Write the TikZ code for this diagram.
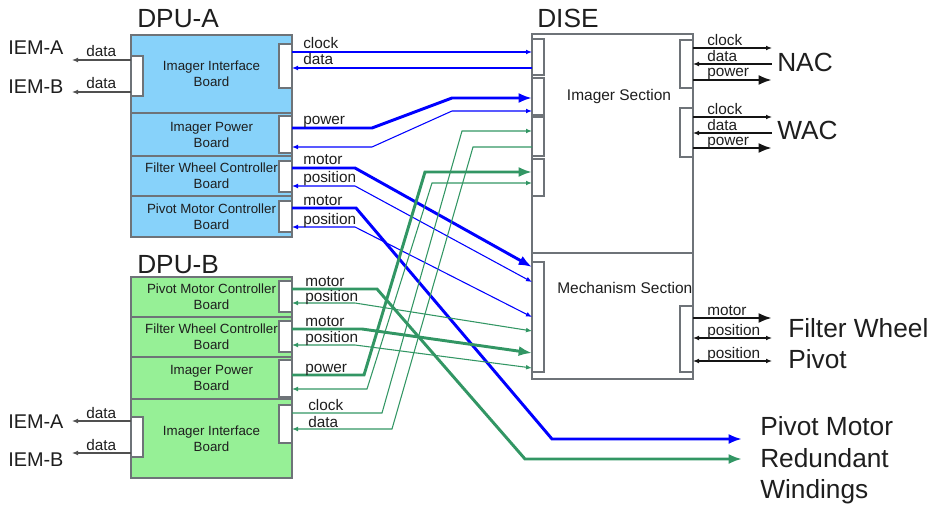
\documentclass[tikz,border=0pt]{standalone}
\usepackage{fontspec}
\setmainfont{Liberation Sans}
\usetikzlibrary{arrows.meta}
\definecolor{fillA}{RGB}{135,210,250}
\definecolor{fillB}{RGB}{150,240,150}
\definecolor{lnB}{RGB}{0,0,255}
\definecolor{lnG}{RGB}{50,150,100}
\definecolor{bord}{RGB}{110,115,120}
\definecolor{txt}{RGB}{30,30,30}
\definecolor{lnK}{RGB}{20,20,20}
\definecolor{lnD}{RGB}{80,80,80}
\newcommand\rbox[7]{\node[#6,minimum width={(#4-#2)*0.75pt},minimum height={(#5-#3)*0.75pt}] (#1) at ({(#2+#4)/2},{(#3+#5)/2}) {#7};}
\begin{document}
\begin{tikzpicture}[x=0.75pt,y=-0.75pt,
  box/.style={draw=bord,line width=1pt,inner sep=0pt,outer sep=0pt,align=center,font=\fontsize{10}{12}\selectfont,text=txt},
  boxA/.style={box,fill=fillA},
  boxB/.style={box,fill=fillB},
  boxW/.style={box,fill=white},
  tab/.style={draw=bord,fill=white,line width=0.8pt,inner sep=0pt,outer sep=0pt},
  lbl/.style={font=\fontsize{11.5}{13}\selectfont,anchor=base west,inner sep=0pt,text=txt},
  big/.style={font=\fontsize{19.7}{24}\selectfont,anchor=base west,inner sep=0pt,text=txt},
  iem/.style={font=\fontsize{14.9}{18}\selectfont,anchor=base west,inner sep=0pt,text=txt},
  sec/.style={font=\fontsize{11.6}{14}\selectfont,inner sep=0pt,text=txt},
  thinB/.style={draw=lnB,line width=0.8pt},
  thickB/.style={draw=lnB,line width=2.2pt},
  thinG/.style={draw=lnG,line width=0.8pt},
  thickG/.style={draw=lnG,line width=2.2pt},
  thinK/.style={draw=lnK,line width=0.8pt},
  thickK/.style={draw=lnK,line width=2.2pt},
  thinD/.style={draw=lnD,line width=0.8pt},
  sarr/.style={-{Latex[length=4.5pt,width=3.6pt]}},
  sarrs/.style={{Latex[length=4.5pt,width=3.6pt]}-},
  sarrb/.style={{Latex[length=4.5pt,width=3.6pt]}-{Latex[length=4.5pt,width=3.6pt]}},
  barr/.style={-{Latex[length=10pt,width=7.5pt]}}
]
\useasboundingbox (0,0) rectangle (935,506);

% ---------------- DPU-A ----------------
\rbox{aI}{131}{35}{292}{113}{boxA}{Imager Interface\\Board}
\rbox{aP}{131}{113}{292}{156}{boxA}{Imager Power\\Board}
\rbox{aF}{131}{156}{292}{196}{boxA}{Filter Wheel Controller\\Board}
\rbox{aV}{131}{196}{292}{237}{boxA}{Pivot Motor Controller\\Board}
\rbox{tAI}{279}{44}{292}{88}{tab}{}
\rbox{tAP}{279}{116}{292}{153}{tab}{}
\rbox{tAF}{279}{161}{292}{192}{tab}{}
\rbox{tAV}{279}{201}{292}{232}{tab}{}
\rbox{tAL}{131}{56}{143}{96}{tab}{}

% ---------------- DPU-B ----------------
\rbox{bV}{131}{277}{292}{317}{boxB}{Pivot Motor Controller\\Board}
\rbox{bF}{131}{317}{292}{357}{boxB}{Filter Wheel Controller\\Board}
\rbox{bP}{131}{357}{292}{399}{boxB}{Imager Power\\Board}
\rbox{bI}{131}{399}{292}{478}{boxB}{Imager Interface\\Board}
\rbox{tBV}{279}{281}{292}{312}{tab}{}
\rbox{tBF}{279}{321}{292}{352}{tab}{}
\rbox{tBP}{279}{360}{292}{397}{tab}{}
\rbox{tBI}{279}{405}{292}{443}{tab}{}
\rbox{tBL}{131}{417}{143}{457}{tab}{}

% ---------------- DISE ----------------
\rbox{dI}{532}{34}{693}{253}{boxW}{}
\rbox{dM}{532}{253}{693}{379}{boxW}{}
\node[sec] (secI) at (619,97) {Imager Section};
\node[sec,anchor=west] (secM) at (557,288) {Mechanism Section};
\rbox{tD1}{532}{39}{544}{75}{tab}{}
\rbox{tD2}{532}{78}{544}{115}{tab}{}
\rbox{tD3}{532}{117}{544}{156}{tab}{}
\rbox{tD4}{532}{159}{544}{196}{tab}{}
\rbox{tDM}{532}{262}{544}{372}{tab}{}
\rbox{tDN}{680}{40}{693}{88}{tab}{}
\rbox{tDW}{680}{108}{693}{157}{tab}{}
\rbox{tDR}{680}{306}{693}{372}{tab}{}

% ---------------- titles ----------------
\node[big] (tA) at (137,28) {DPU-A};
\node[big] (tB) at (137,273) {DPU-B};
\node[big] (tD) at (537,28) {DISE};
\node[big] (nac) at (777,72) {NAC};
\node[big] (wac) at (777,140) {WAC};
\node[big] (fw) at (788,337) {Filter Wheel};
\node[big] (pv) at (788,368) {Pivot};
\node[big] (pm1) at (760,435) {Pivot Motor};
\node[big] (pm2) at (760,467) {Redundant};
\node[big] (pm3) at (760,498) {Windings};
\node[iem] (ia1) at (8,55) {IEM-A};
\node[iem] (ib1) at (8,94) {IEM-B};
\node[iem] (ia2) at (8,428) {IEM-A};
\node[iem] (ib2) at (8,466) {IEM-B};

% ---------------- IEM connectors ----------------
\draw[thinD,sarr] (tAL.west |- 0,60) -- ++(-59,0);
\draw[thinD,sarr] (tAL.west |- 0,92) -- ++(-59,0);
\draw[thinD,sarr] (tBL.west |- 0,421) -- ++(-59,0);
\draw[thinD,sarr] (tBL.west |- 0,453) -- ++(-59,0);
\node[lbl] (ld1) at (86,57) {data};
\node[lbl] (ld2) at (86,89) {data};
\node[lbl] (ld3) at (86,418) {data};
\node[lbl] (ld4) at (86,450) {data};

% ---------------- DPU-A connectors ----------------
\draw[thinB,sarr] (tAI.east |- 0,52) -- (tD1.west |- 0,52);
\draw[thinB,sarr] (tD1.west |- 0,68) -- (tAI.east |- 0,68);
\draw[thickB,barr] (tAP.east |- 0,128) -- (372,128) -- (452,98) -- (tD2.west |- 0,98);
\draw[thinB,sarrb] (tAP.east |- 0,147) -- (372,147) -- (452,111) -- (tD2.west |- 0,111);
\draw[thickB,barr] (tAF.east |- 0,168) -- (355,168) -- (tDM.west |- 0,267);
\draw[thinB,sarrb] (tAF.east |- 0,186) -- (355,186) -- (tDM.west |- 0,282);
\draw[thickB,barr] (tAV.east |- 0,208) -- (356,208) -- (552,439) -- (742,439);
\draw[thinB,sarrb] (tAV.east |- 0,227) -- (355,227) -- (tDM.west |- 0,317);
\node[lbl] (la1) at (303,49) {clock};
\node[lbl] (la2) at (303,65) {data};
\node[lbl] (la3) at (303,125) {power};
\node[lbl] (la4) at (303,165) {motor};
\node[lbl] (la5) at (303,183) {position};
\node[lbl] (la6) at (303,205) {motor};
\node[lbl] (la7) at (303,224) {position};

% ---------------- DPU-B connectors ----------------
\draw[thickG,barr] (tBV.east |- 0,289) -- (377,289) -- (525,459) -- (742,459);
\draw[thinG,sarrb] (tBV.east |- 0,303) -- (355,303) -- (tDM.west |- 0,331);
\draw[thickG,barr] (tBF.east |- 0,329) -- (362,329) -- (tDM.west |- 0,353);
\draw[thinG,sarrb] (tBF.east |- 0,345) -- (355,345) -- (tDM.west |- 0,368);
\draw[thickG,barr] (tBP.east |- 0,375) -- (364,375) -- (425,172) -- (tD4.west |- 0,172);
\draw[thinG,sarrb] (tBP.east |- 0,389) -- (367,389) -- (432,183) -- (tD4.west |- 0,183);
\draw[thinG,sarr] (tBI.east |- 0,413) -- (382,413) -- (462,131) -- (tD3.west |- 0,131);
\draw[thinG,sarr] (tD3.west |- 0,147) -- (473,147) -- (392,429) -- (tBI.east |- 0,429);
\node[lbl] (lb1) at (305,286) {motor};
\node[lbl] (lb2) at (305,301) {position};
\node[lbl] (lb3) at (305,326) {motor};
\node[lbl] (lb4) at (305,342) {position};
\node[lbl] (lb5) at (305,372) {power};
\node[lbl] (lb6) at (308,410) {clock};
\node[lbl] (lb7) at (308,427) {data};

% ---------------- DISE right connectors ----------------
\draw[thinK,sarr] (tDN.east |- 0,48) -- ++(79,0);
\draw[thinK,sarrs] (tDN.east |- 0,64) -- ++(79,0);
\draw[thickK,barr] (tDN.east |- 0,80) -- ++(79,0);
\draw[thinK,sarr] (tDW.east |- 0,117) -- ++(79,0);
\draw[thinK,sarrs] (tDW.east |- 0,133) -- ++(79,0);
\draw[thickK,barr] (tDW.east |- 0,148) -- ++(79,0);
\draw[thickK,barr] (tDR.east |- 0,318) -- ++(79,0);
\draw[thinK,sarrb] (tDR.east |- 0,338) -- ++(79,0);
\draw[thinK,sarrb] (tDR.east |- 0,361) -- ++(79,0);
\node[lbl] (lr1) at (707,46) {clock};
\node[lbl] (lr2) at (707,62) {data};
\node[lbl] (lr3) at (707,77) {power};
\node[lbl] (lr4) at (707,115) {clock};
\node[lbl] (lr5) at (707,131) {data};
\node[lbl] (lr6) at (707,146) {power};
\node[lbl] (lr7) at (707,315) {motor};
\node[lbl] (lr8) at (707,335) {position};
\node[lbl] (lr9) at (707,358) {position};
\end{tikzpicture}
\end{document}
